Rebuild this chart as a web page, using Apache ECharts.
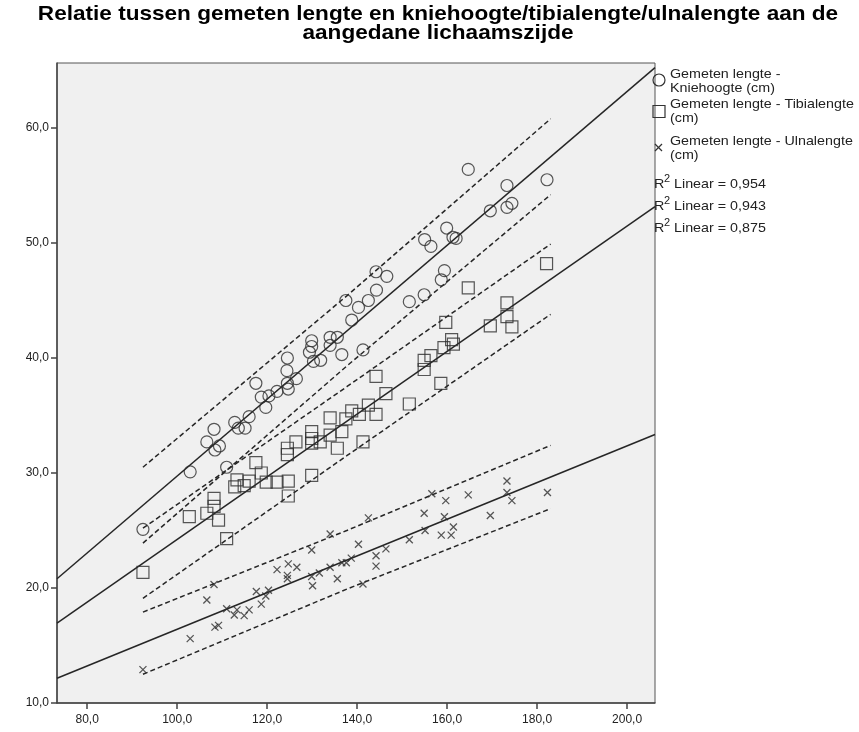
<!DOCTYPE html>
<html><head><meta charset="utf-8">
<script src="https://cdn.jsdelivr.net/npm/echarts@6/dist/echarts.min.js"></script>
<style>html,body{margin:0;padding:0;background:#fff}#c{width:859px;height:732px}</style>
</head><body><div id="c"></div>
<script>
const titleLines = ['Relatie tussen gemeten lengte en kniehoogte/tibialengte/ulnalengte aan de', 'aangedane lichaamszijde'];
const xTicks = [80, 100, 120, 140, 160, 180, 200];
const yTicks = [10, 20, 30, 40, 50, 60];

const knee = [[92.4,25.1],[102.9,30.1],[106.6,32.7],[108.2,33.8],[108.4,32.0],[109.4,32.35],[111.0,30.5],[112.8,34.4],[113.6,33.9],[115.1,33.9],[116.0,34.9],[117.5,37.8],[118.7,36.6],[119.7,35.7],[120.4,36.7],[122.2,37.1],[124.5,40.0],[124.4,38.9],[124.5,37.8],[124.7,37.3],[126.5,38.2],[129.4,40.5],[129.9,41.5],[129.9,41.0],[130.3,39.7],[131.9,39.8],[134.0,41.8],[135.6,41.8],[134.0,41.1],[136.6,40.3],[137.5,45.0],[138.8,43.3],[140.3,44.4],[141.3,40.7],[142.5,45.0],[144.2,47.5],[144.3,45.9],[146.6,47.1],[151.6,44.9],[154.9,45.5],[155.0,50.3],[156.4,49.7],[158.7,46.8],[159.4,47.6],[159.9,51.3],[161.3,50.5],[162.0,50.4],[164.7,56.4],[169.6,52.8],[173.3,55.0],[173.3,53.1],[174.4,53.45],[182.2,55.5]];
const tibia = [[92.4,21.35],[102.7,26.2],[106.6,26.5],[108.2,27.8],[108.2,27.1],[109.2,25.9],[111.0,24.3],[112.8,28.8],[113.3,29.4],[114.9,28.9],[116.0,29.3],[117.5,30.9],[118.7,30.0],[119.8,29.2],[122.2,29.2],[124.7,29.3],[124.7,28.0],[124.5,32.15],[124.5,31.6],[126.4,32.7],[129.9,33.6],[129.9,33.0],[129.9,32.6],[129.9,29.8],[131.8,32.7],[134.0,34.8],[134.0,33.3],[135.6,32.15],[136.6,33.6],[137.5,34.7],[138.8,35.4],[140.5,35.1],[141.3,32.7],[142.5,35.9],[144.2,38.4],[144.2,35.1],[146.4,36.9],[151.6,36.0],[154.9,39.8],[154.9,39.0],[156.4,40.2],[158.6,37.8],[159.3,40.9],[159.7,43.1],[161.0,41.6],[161.4,41.2],[164.7,46.1],[169.6,42.8],[173.3,44.8],[173.3,43.6],[174.4,42.7],[182.1,48.2]];
const ulna = [[92.4,12.9],[102.9,15.6],[106.6,18.95],[108.2,20.3],[108.4,16.6],[109.2,16.75],[111.0,18.2],[112.7,17.65],[113.3,18.1],[114.9,17.6],[116.0,18.1],[117.6,19.7],[118.7,18.6],[119.7,19.3],[120.3,19.8],[122.2,21.6],[124.7,22.1],[124.5,21.1],[124.5,20.8],[126.6,21.8],[129.9,23.3],[129.9,21.0],[130.1,20.2],[131.6,21.3],[134.0,24.7],[134.0,21.8],[135.6,20.8],[136.6,22.2],[137.6,22.2],[138.7,22.6],[140.3,23.8],[141.3,20.35],[142.5,26.1],[144.2,22.8],[144.2,21.9],[146.4,23.4],[151.6,24.2],[154.9,26.5],[155.1,25.0],[156.6,28.2],[158.7,24.6],[159.7,27.6],[159.4,26.2],[160.9,24.6],[161.4,25.3],[164.7,28.1],[169.6,26.3],[173.3,29.3],[173.3,28.3],[174.4,27.6],[182.3,28.3]];

const kneeFit = [[73.3,20.8],[206.2,65.25]];
const tibiaFit = [[73.3,16.94],[206.2,53.17]];
const ulnaFit = [[73.3,12.15],[206.2,33.35]];
const kneeUpper = [[92.4,30.5],[137.7,45.4],[183,60.8]];
const kneeLower = [[92.4,23.9],[137.7,39.3],[183,54.2]];
const tibiaUpper = [[92.4,25.2],[137.7,37.5],[183,49.9]];
const tibiaLower = [[92.4,19.1],[137.7,31.5],[183,43.8]];
const ulnaUpper = [[92.4,17.9],[137.7,25.0],[183,32.4]];
const ulnaLower = [[92.4,12.5],[137.7,19.9],[183,26.9]];

const legendItems = [['Gemeten lengte -', 'Kniehoogte (cm)'], ['Gemeten lengte - Tibialengte', '(cm)'], ['Gemeten lengte - Ulnalengte', '(cm)']];
const r2Values = ['0,954', '0,943', '0,875'];

const FONT = 'Liberation Sans, Arial, sans-serif';
const fmt = v => v.toFixed(1).replace('.', ',');
const ink = '#262626';

function scatter(data, symbol, size, bw) {
  return { type: 'scatter', data, symbol, symbolSize: size, z: 3,
    itemStyle: { color: 'rgba(0,0,0,0)', borderColor: '#2e2e2e', borderWidth: bw } };
}
function line(data, dashed) {
  return { type: 'line', data, showSymbol: false, symbol: 'none', z: 2, silent: true,
    lineStyle: { color: ink, width: 1.5, type: dashed ? [5, 3] : 'solid' } };
}

const graphic = [];
titleLines.forEach((t, i) => graphic.push({ type: 'text', x: 438, y: 14 + i * 19, scaleX: 1.075,
  style: { text: t, font: 'bold 21px ' + FONT, fill: '#000', textAlign: 'center', textVerticalAlign: 'middle' } }));
const itemY = [[74, 88], [104, 118], [141, 155]];
const legendText = (t, x, y, size) => ({ type: 'text', x, y, scaleX: 1.1,
  style: { text: t, font: size + 'px ' + FONT, fill: '#222', textVerticalAlign: 'middle' } });
legendItems.forEach((lines, i) => lines.forEach((t, j) => graphic.push(legendText(t, 670, itemY[i][j], 13))));
graphic.push({ type: 'circle', shape: { cx: 659, cy: 80, r: 6 }, style: { fill: 'none', stroke: '#333', lineWidth: 1.2 } });
graphic.push({ type: 'rect', shape: { x: 653, y: 105.5, width: 12, height: 12 }, style: { fill: 'none', stroke: '#333', lineWidth: 1.2 } });
graphic.push({ type: 'polyline', shape: { points: [[655, 144], [662, 151]] }, style: { stroke: '#333', lineWidth: 1.2 } });
graphic.push({ type: 'polyline', shape: { points: [[662, 144], [655, 151]] }, style: { stroke: '#333', lineWidth: 1.2 } });
r2Values.forEach((v, i) => {
  const y = 184 + i * 22;
  graphic.push(legendText('R', 654, y, 13));
  graphic.push(legendText('2', 664, y - 5, 10));
  graphic.push(legendText('Linear = ' + v, 674, y, 13));
});

const chart = echarts.init(document.getElementById('c'), null, { renderer: 'canvas' });
chart.setOption({
  animation: false,
  backgroundColor: '#fff',
  grid: { left: 57, right: 204, top: 63, bottom: 29, show: true, backgroundColor: '#f0f0f0', borderColor: '#555', borderWidth: 1 },
  xAxis: { type: 'value', min: 73.3, max: 206.2,
    axisLine: { show: true, onZero: false, lineStyle: { color: '#444', width: 1.5 } },
    axisTick: { show: true, length: 6, customValues: xTicks, lineStyle: { color: '#444', width: 1.5 } },
    axisLabel: { customValues: xTicks, formatter: fmt, color: '#222', fontSize: 12, fontFamily: FONT, margin: 11 },
    splitLine: { show: false } },
  yAxis: { type: 'value', min: 10, max: 65.65,
    axisLine: { show: true, onZero: false, lineStyle: { color: '#444', width: 1.5 } },
    axisTick: { show: true, length: 6, customValues: yTicks, lineStyle: { color: '#444', width: 1.5 } },
    axisLabel: { customValues: yTicks, formatter: fmt, color: '#222', fontSize: 12, fontFamily: FONT, margin: 8 },
    splitLine: { show: false } },
  graphic,
  series: [
    line(kneeFit, false), line(tibiaFit, false), line(ulnaFit, false),
    line(kneeUpper, true), line(kneeLower, true),
    line(tibiaUpper, true), line(tibiaLower, true),
    line(ulnaUpper, true), line(ulnaLower, true),
    scatter(knee, 'circle', 12, 1.2),
    scatter(tibia, 'rect', 12, 1.2),
    scatter(ulna, 'path://M0,0L10,10M10,0L0,10', 7, 1.3)
  ]
});
</script></body></html>
